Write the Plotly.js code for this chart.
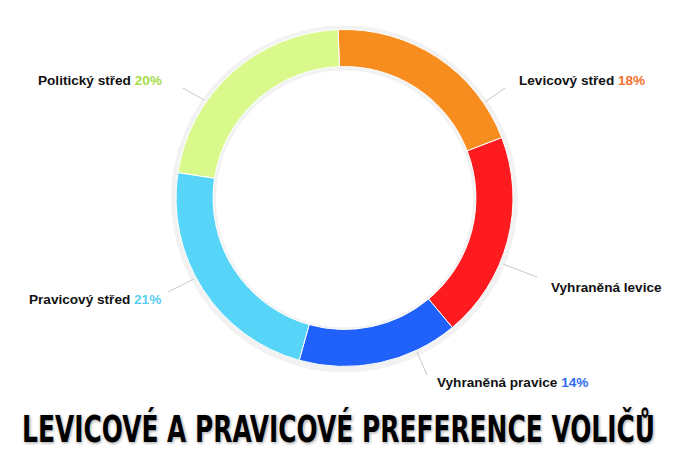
<!DOCTYPE html>
<html>
<head>
<meta charset="utf-8">
<script src="https://cdn.plot.ly/plotly-3.0.1.min.js"></script>
<style>html,body{margin:0;padding:0;background:#fff;}#chart{width:675px;height:450px;}</style>
</head>
<body>
<div id="chart"></div>
<script>
// Data
const categories = ["Levicový střed", "Vyhraněná levice", "Vyhraněná pravice", "Pravicový střed", "Politický střed"];
const values = [18, 18, 14, 21, 20];
const shownPercent = ["18%", "", "14%", "21%", "20%"];
const sliceColors = ["#F78D1E", "#FE1B1F", "#2161FB", "#57D5F9", "#DAF98C"];
const pctColors = ["#F2702A", "#FE1B1F", "#2F6BF0", "#5BCDF2", "#A6DE4A"];
const chartTitle = "LEVICOVÉ A PRAVICOVÉ PREFERENCE VOLIČŮ";

const W = 675, H = 450;
const px = x => x / W;
const py = y => 1 - y / H;

// label layout (pixel positions of label anchors and leader lines)
const labelPos = [
  {x: 517, y: 80, anchor: 'left', line: [[485,102],[505,88]]},
  {x: 549, y: 287, anchor: 'left', line: [[503,264],[537,277]]},
  {x: 435, y: 382, anchor: 'left', line: [[417,352],[427,375]]},
  {x: 163, y: 299, anchor: 'right', line: [[168,292],[194,279]]},
  {x: 164, y: 81, anchor: 'right', line: [[183,88],[204,100]]}
];

const annotations = categories.map((c, i) => ({
  xref: 'paper', yref: 'paper',
  x: px(labelPos[i].x), y: py(labelPos[i].y),
  xanchor: labelPos[i].anchor, yanchor: 'middle',
  showarrow: false,
  text: shownPercent[i] ? c + ' <span style="color:' + pctColors[i] + '">' + shownPercent[i] + '</span>' : c,
  font: {family: 'Liberation Sans, Arial, sans-serif', size: 13.6, color: '#111', weight: 'bold'}
}));

const shapes = labelPos.map(l => ({
  type: 'line', xref: 'paper', yref: 'paper',
  x0: px(l.line[0][0]), y0: py(l.line[0][1]),
  x1: px(l.line[1][0]), y1: py(l.line[1][1]),
  line: {color: '#c8c8c8', width: 1}
}));

const cx = 344.5, cy = 198, r = 168.5;

const shadow = {
  type: 'pie', values: [1], labels: ['s'], hole: 0.74,
  marker: {colors: ['rgba(0,0,0,0.05)'], line: {width: 0}},
  textinfo: 'none', hoverinfo: 'skip', showlegend: false, sort: false,
  domain: {x: [px(cx - r - 5), px(cx + r + 5)], y: [py(cy + r + 6), py(cy - r - 4)]}
};

const trace = {
  type: 'pie',
  labels: categories,
  values: values,
  hole: 0.78,
  sort: false,
  direction: 'clockwise',
  rotation: -2.2,
  marker: {colors: sliceColors, line: {color: '#ffffff', width: 1}},
  textinfo: 'none',
  hoverinfo: 'label+value',
  showlegend: false,
  domain: {x: [px(cx - r), px(cx + r)], y: [py(cy + r), py(cy - r)]}
};

const layout = {
  width: W, height: H,
  margin: {l: 0, r: 0, t: 0, b: 0},
  paper_bgcolor: '#ffffff',
  showlegend: false,
  title: {
    text: chartTitle,
    x: 0.5, xanchor: 'center', xref: 'paper',
    y: 1 - 429 / H, yanchor: 'middle', yref: 'container',
    font: {family: 'DejaVu Sans Condensed, DejaVu Sans, sans-serif', size: 38, color: '#000', weight: 'bold',
           shadow: '0 0 2px #fff, 1px 1px 3px rgba(0,0,0,0.45)'}
  },
  annotations: annotations,
  shapes: shapes
};

Plotly.newPlot('chart', [shadow, trace], layout, {displayModeBar: false, staticPlot: true}).then(() => {
  // narrow the title horizontally to mimic the condensed display face
  const t = document.querySelector('.gtitle');
  if (t) {
    const bb = t.getBBox();
    const targetW = 633, centerX = 338.5;
    const s = targetW / bb.width;
    const c = bb.x + bb.width / 2;
    t.setAttribute('transform', 'translate(' + centerX + ',0) scale(' + s + ',1) translate(' + (-c) + ',0)');
  }
});
</script>
</body>
</html>
